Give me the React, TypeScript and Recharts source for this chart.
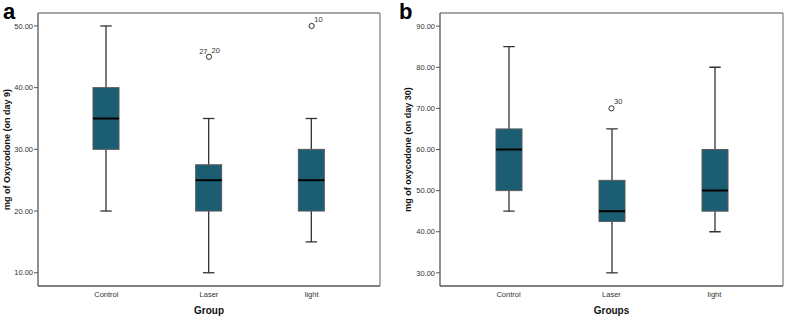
import { ComposedChart, Bar, Scatter, XAxis, YAxis, CartesianGrid } from 'recharts';

const GROUPS = ['Control', 'Laser', 'light'];

// panel a: oxycodone on day 9
const DAY9_MIN = [20, 10, 15];
const DAY9_Q1 = [30, 20, 20];
const DAY9_MEDIAN = [35, 25, 25];
const DAY9_Q3 = [40, 27.5, 30];
const DAY9_MAX = [50, 35, 35];
const DAY9_OUTLIER = [null, 45, 50];
const DAY9_OUTLIER_IDS = [[], ['27', '20'], ['10']];
const DAY9_TICKS = [10, 20, 30, 40, 50];

// panel b: oxycodone on day 30
const DAY30_MIN = [45, 30, 40];
const DAY30_Q1 = [50, 42.5, 45];
const DAY30_MEDIAN = [60, 45, 50];
const DAY30_Q3 = [65, 52.5, 60];
const DAY30_MAX = [85, 65, 80];
const DAY30_OUTLIER = [null, 70, null];
const DAY30_OUTLIER_IDS = [[], ['30'], []];
const DAY30_TICKS = [30, 40, 50, 60, 70, 80, 90];

const FONT = '"Liberation Sans", Arial, sans-serif';
const BOX_FILL = '#1b5e74';

type Row = {
  name: string;
  min: number;
  q1: number;
  median: number;
  q3: number;
  max: number;
  outlier: number | null;
  outlierIds: string[];
};

function buildRows(
  min: number[],
  q1: number[],
  median: number[],
  q3: number[],
  max: number[],
  outlier: (number | null)[],
  ids: string[][],
): Row[] {
  return GROUPS.map((name, i) => ({
    name,
    min: min[i],
    q1: q1[i],
    median: median[i],
    q3: q3[i],
    max: max[i],
    outlier: outlier[i],
    outlierIds: ids[i],
  }));
}

const day9Rows = buildRows(DAY9_MIN, DAY9_Q1, DAY9_MEDIAN, DAY9_Q3, DAY9_MAX, DAY9_OUTLIER, DAY9_OUTLIER_IDS);
const day30Rows = buildRows(DAY30_MIN, DAY30_Q1, DAY30_MEDIAN, DAY30_Q3, DAY30_MAX, DAY30_OUTLIER, DAY30_OUTLIER_IDS);

// the bar spans min..max, box parts are placed inside that span
function BoxShape(props: any) {
  const { x, y, width, height, payload } = props;
  if (!payload || !Number.isFinite(y) || !Number.isFinite(height)) return null;
  const top = Math.min(y, y + height);
  const bottom = Math.max(y, y + height);
  const span = payload.max - payload.min;
  const toY = (v: number) => bottom - ((v - payload.min) / span) * (bottom - top);
  const cx = x + width / 2;
  const cap = width * 0.22;
  const yQ1 = toY(payload.q1);
  const yQ3 = toY(payload.q3);
  const yMed = toY(payload.median);
  return (
    <g>
      <line x1={cx} x2={cx} y1={top} y2={yQ3} stroke="#333" strokeWidth={1.3} />
      <line x1={cx} x2={cx} y1={yQ1} y2={bottom} stroke="#333" strokeWidth={1.3} />
      <line x1={cx - cap} x2={cx + cap} y1={top} y2={top} stroke="#333" strokeWidth={1.3} />
      <line x1={cx - cap} x2={cx + cap} y1={bottom} y2={bottom} stroke="#333" strokeWidth={1.3} />
      <rect x={x} y={yQ3} width={width} height={yQ1 - yQ3} fill={BOX_FILL} stroke="#5a5a5a" strokeWidth={1} />
      <line x1={x} x2={x + width} y1={yMed} y2={yMed} stroke="#000" strokeWidth={2} />
    </g>
  );
}

function OutlierShape(props: any) {
  const { cx, cy, payload } = props;
  if (!payload || payload.outlier == null || !Number.isFinite(cx) || !Number.isFinite(cy)) return null;
  const ids: string[] = payload.outlierIds;
  const last = ids[ids.length - 1];
  const rest = ids.slice(0, -1);
  return (
    <g fontFamily={FONT} fontSize={7.5} fill="#333">
      <circle cx={cx} cy={cy} r={2.6} fill="#fff" stroke="#333" strokeWidth={1} />
      {last && (
        <text x={cx + 2.6} y={cy - 4.2} textAnchor="start" fill="#333">
          {last}
        </text>
      )}
      {rest.length > 0 && (
        <text x={cx - 1.5} y={cy - 3.2} textAnchor="end" fill="#333">
          {rest.join(' ')}
        </text>
      )}
    </g>
  );
}

function YTitle({ viewBox, text, x }: any) {
  const cy = viewBox ? viewBox.y + viewBox.height / 2 : 150;
  return (
    <text
      x={x}
      y={cy}
      transform={`rotate(-90, ${x}, ${cy})`}
      textAnchor="middle"
      dominantBaseline="central"
      fontFamily={FONT}
      fontSize={9}
      fontWeight="bold"
      fill="#111"
    >
      {text}
    </text>
  );
}

function XTitle({ viewBox, text }: any) {
  const cx = viewBox ? viewBox.x + viewBox.width / 2 : 200;
  return (
    <text x={cx} y={313.5} textAnchor="middle" fontFamily={FONT} fontSize={10} fontWeight="bold" fill="#111">
      {text}
    </text>
  );
}

interface BoxPanelProps {
  rows: Row[];
  width: number;
  yAxisWidth: number;
  marginRight: number;
  domain: [number, number];
  ticks: number[];
  yTitle: string;
  yTitleX: number;
  xTitle: string;
}

function BoxPanel({ rows, width, yAxisWidth, marginRight, domain, ticks, yTitle, yTitleX, xTitle }: BoxPanelProps) {
  const tickStyle = { fill: '#333', fontSize: 7.5, fontFamily: FONT };
  return (
    <ComposedChart
      width={width}
      height={317}
      data={rows}
      margin={{ top: 13, right: marginRight, left: 0, bottom: 0 }}
    >
      {/* top and right edges of the frame */}
      <CartesianGrid
        stroke="#888"
        strokeWidth={1.3}
        horizontalCoordinatesGenerator={({ offset }: any) => [offset.top]}
        verticalCoordinatesGenerator={({ offset }: any) => [offset.left + offset.width]}
      />
      <XAxis
        dataKey="name"
        height={31}
        padding={{ left: 17, right: 17 }}
        tick={tickStyle}
        tickLine={false}
        tickSize={4}
        tickMargin={2}
        axisLine={{ stroke: '#555', strokeWidth: 1.3 }}
        label={(p: any) => <XTitle viewBox={p.viewBox} text={xTitle} />}
      />
      <YAxis
        width={yAxisWidth}
        domain={domain}
        ticks={ticks}
        allowDataOverflow
        tickFormatter={(v: number) => v.toFixed(2)}
        tick={tickStyle}
        tickSize={4}
        tickMargin={1}
        tickLine={{ stroke: '#555' }}
        axisLine={{ stroke: '#555', strokeWidth: 1.3 }}
        label={(p: any) => <YTitle viewBox={p.viewBox} text={yTitle} x={yTitleX} />}
      />
      <Bar
        dataKey={(r: Row) => [r.min, r.max]}
        barSize={26}
        shape={<BoxShape />}
        isAnimationActive={false}
      />
      <Scatter dataKey="outlier" shape={<OutlierShape />} isAnimationActive={false} />
    </ComposedChart>
  );
}

export default function App() {
  return (
    <div style={{ position: 'absolute', left: 0, top: 0, width: 785, height: 317, background: '#fff', fontFamily: FONT }}>
      <div style={{ position: 'absolute', left: 0, top: 0 }}>
        <BoxPanel
          rows={day9Rows}
          width={390}
          yAxisWidth={38}
          marginRight={10}
          domain={[7.85, 52.1]}
          ticks={DAY9_TICKS}
          yTitle="mg of Oxycodone (on day 9)"
          yTitleX={6.5}
          xTitle="Group"
        />
      </div>
      <div style={{ position: 'absolute', left: 390, top: 0 }}>
        <BoxPanel
          rows={day30Rows}
          width={395}
          yAxisWidth={50}
          marginRight={2}
          domain={[26.8, 93.2]}
          ticks={DAY30_TICKS}
          yTitle="mg of oxycodone (on day 30)"
          yTitleX={18}
          xTitle="Groups"
        />
      </div>
      <div style={{ position: 'absolute', left: 3, top: 1, fontSize: 22, lineHeight: '22px', fontWeight: 'bold', color: '#000' }}>
        a
      </div>
      <div style={{ position: 'absolute', left: 399, top: 1, fontSize: 22, lineHeight: '22px', fontWeight: 'bold', color: '#000' }}>
        b
      </div>
    </div>
  );
}
